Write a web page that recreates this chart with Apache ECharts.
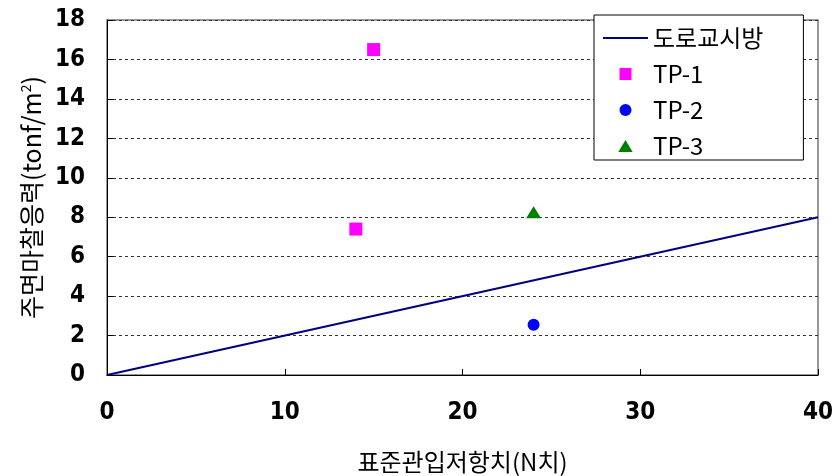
<!DOCTYPE html>
<html>
<head>
<meta charset="utf-8">
<script src="https://cdn.jsdelivr.net/npm/echarts@6/dist/echarts.min.js"></script>
<style>
html,body{margin:0;padding:0;background:#fff;}
#chart{width:837px;height:476px;}
</style>
</head>
<body>
<div id="chart"></div>
<script>
// Data
const lineName = '도로교시방';
const lineX = [0, 40];
const lineY = [0, 8];
const tp1X = [14, 15];
const tp1Y = [7.4, 16.5];
const tp2X = [24];
const tp2Y = [2.55];
const tp3X = [24];
const tp3Y = [8.25];
const xTitle = '표준관입저항치(N치)';
const yTitle = '주면마찰응력(tonf/m{sup|2})';

function pairs(xs, ys){ return xs.map((x,i)=>[x, ys[i]]); }

const numFont = '"DejaVu Sans Condensed","Liberation Sans Narrow",sans-serif';
const krFont = '"Noto Sans CJK KR","Noto Sans",sans-serif';

const chart = echarts.init(document.getElementById('chart'), null, {renderer:'canvas'});
chart.setOption({
  animation: false,
  backgroundColor: '#fff',
  grid: {
    left: 107, right: 19, top: 20, bottom: 101,
    containLabel: false, outerBoundsMode: 'none',
    show: true, borderColor: '#777', borderWidth: 1.5, backgroundColor: 'transparent'
  },
  legend: {
    orient: 'vertical',
    left: 594, top: 15,
    padding: [11, 40, 2, 9],
    itemGap: 12,
    itemWidth: 45, itemHeight: 12,
    itemTextGap: 10,
    symbolKeepAspect: true,
    backgroundColor: '#fff',
    borderColor: '#000', borderWidth: 1,
    textStyle: {fontFamily: krFont, fontSize: 24, lineHeight: 24, color: '#000'},
    data: [
      {name: lineName, icon: 'path://M0,0H45V2H0Z'},
      {name: 'TP-1', icon: 'path://M0,0H10V10H0Z'},
      {name: 'TP-2', icon: 'circle'},
      {name: 'TP-3', icon: 'path://M6,0L12,10H0Z'}
    ]
  },
  xAxis: {
    type: 'value', min: 0, max: 40, interval: 10,
    axisLine: {show: true, onZero: false, lineStyle: {color: '#000', width: 1}},
    axisTick: {show: true, inside: true, length: 6, lineStyle: {color: '#000'}},
    splitLine: {show: false},
    axisLabel: {fontFamily: numFont, fontWeight: 'bold', fontSize: 24, color: '#000', margin: 26},
    name: xTitle, nameLocation: 'middle', nameGap: 75,
    nameTextStyle: {fontFamily: krFont, fontSize: 24, color: '#000'}
  },
  yAxis: {
    type: 'value', min: 0, max: 18, interval: 2,
    axisLine: {show: true, lineStyle: {color: '#000', width: 1}},
    axisTick: {show: true, inside: true, length: 6, lineStyle: {color: '#000'}},
    splitLine: {show: true, lineStyle: {color: '#333', type: [3, 3], width: 1}},
    axisLabel: {fontFamily: numFont, fontWeight: 'bold', fontSize: 24, color: '#000', margin: 22},
    name: yTitle, nameLocation: 'middle', nameGap: 58, nameRotate: 90,
    nameTextStyle: {fontFamily: krFont, fontSize: 25, color: '#000',
      rich: {sup: {fontFamily: krFont, fontSize: 14, color: '#000', padding: [0,0,12,0]}}}
  },
  series: [
    {name: lineName, type: 'line', data: pairs(lineX, lineY), symbol: 'none', showSymbol: false,
     lineStyle: {color: '#000080', width: 2}, itemStyle: {color: '#000080'}, z: 3},
    {name: 'TP-1', type: 'scatter', data: pairs(tp1X, tp1Y), symbol: 'rect', symbolSize: 13,
     itemStyle: {color: '#FF00FF', opacity: 1}},
    {name: 'TP-2', type: 'scatter', data: pairs(tp2X, tp2Y), symbol: 'circle', symbolSize: 12,
     itemStyle: {color: '#0000FF', opacity: 1}},
    {name: 'TP-3', type: 'scatter', data: pairs(tp3X, tp3Y), symbol: 'triangle', symbolSize: [15, 12],
     itemStyle: {color: '#008000', opacity: 1}}
  ]
});
</script>
</body>
</html>
